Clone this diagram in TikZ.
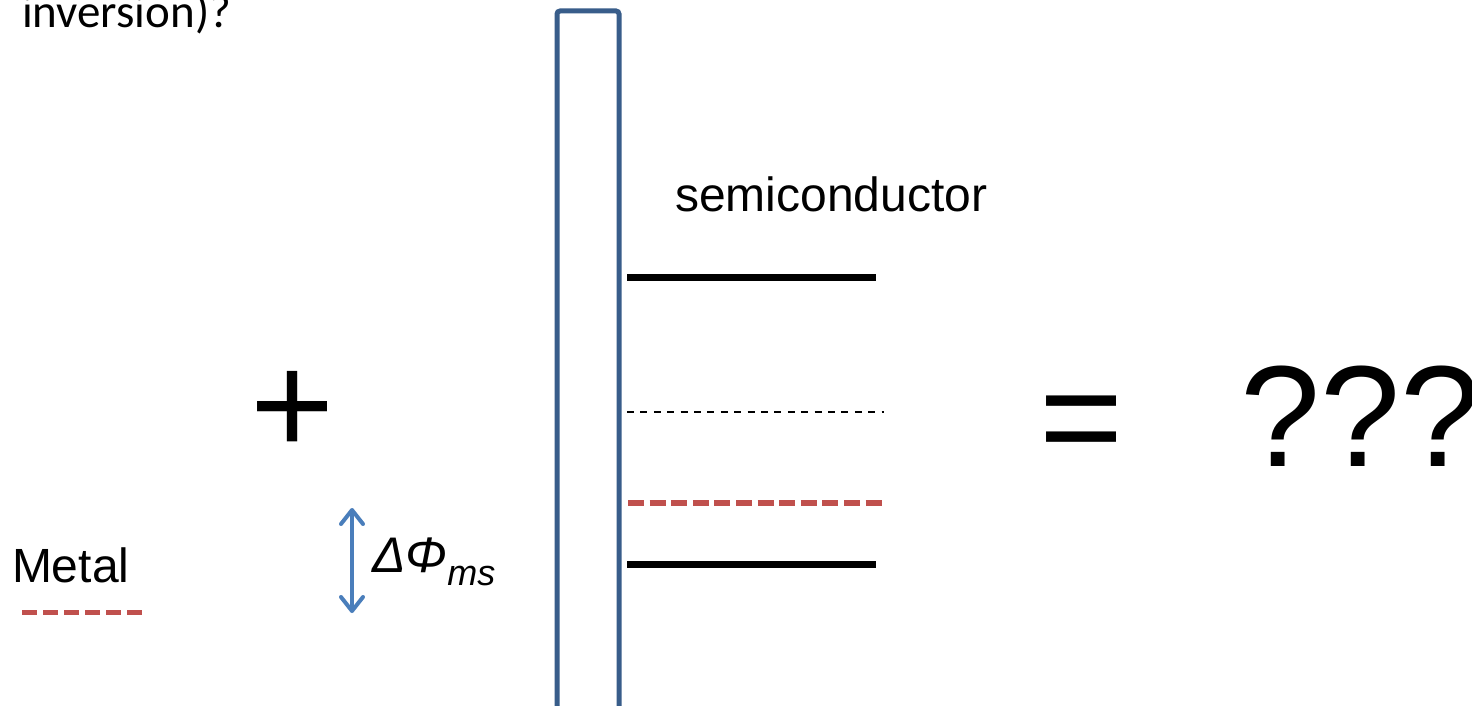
\documentclass[tikz,border=0pt]{standalone}
\usepackage{fontspec}
\setmainfont{Liberation Sans}
\newfontfamily\calibrilike{Carlito}
\usetikzlibrary{arrows.meta}
\definecolor{oxideblue}{RGB}{56,93,138}
\definecolor{arrowblue}{RGB}{74,126,187}
\definecolor{fermired}{RGB}{192,80,77}
\tikzset{
  txt/.style={inner sep=0pt, outer sep=0pt, anchor=base west},
  band/.style={line width=3.5pt, black},
  midgap/.style={line width=0.75pt, black, dash pattern=on 3.5pt off 3.2pt},
  fermi/.style={line width=3pt, fermired, dash pattern=on 8pt off 2.8pt},
  metalfermi/.style={line width=2.5pt, fermired, dash pattern=on 7.5pt off 3pt},
  oxide/.style={line width=2.5pt, oxideblue, rounded corners=1.5pt},
  biglabel/.style={txt, font=\fontsize{72}{72}\selectfont},
}
\begin{document}
\begin{tikzpicture}[x=0.5pt, y=-0.5pt]
\useasboundingbox (0,0) rectangle (1472,706);
\fill[white] (0,0) rectangle (1472,706);

% question text cut by the top edge
\node[txt, font=\calibrilike\fontsize{23.5}{23.5}\selectfont] (question) at (22,28) {inversion)?};

% metal side
\node[txt, font=\fontsize{24}{24}\selectfont] (metal) at (12,582) {Metal};
\coordinate (mfL) at (22,612);
\coordinate (mfR) at (143,612);
\draw[metalfermi] (mfL) -- (mfR);

% work function difference
\coordinate (dTop) at (352,508);
\coordinate (dBot) at (352,613);
\draw[arrowblue, line width=2pt, line cap=round,
  {Straight Barb[length=7pt,width=11pt,round]}-{Straight Barb[length=7pt,width=11pt,round]}]
  (dTop) -- (dBot);
\node[txt, font=\fontsize{25}{25}\selectfont\itshape] (dphi) at (372,572)
  {ΔΦ\raisebox{-6.5pt}{\fontsize{18}{18}\selectfont ms}};

% plus sign
\node[biglabel] (plus) at (250,454) {+};

% oxide layer
\begin{scope}
\clip (0,0) rectangle (1472,706);
\draw[oxide] (557,730) -- (557,11) -- (619,11) -- (619,730);
\end{scope}

% semiconductor bands
\node[txt, font=\fontsize{24}{24}\selectfont] (semi) at (675,211) {semiconductor};
\coordinate (ecL) at (627,277);  \coordinate (ecR) at (876,277);
\coordinate (eiL) at (627,412);  \coordinate (eiR) at (884,412);
\coordinate (efL) at (628,503);  \coordinate (efR) at (884,503);
\coordinate (evL) at (627,564);  \coordinate (evR) at (876,564);
\draw[band] (ecL) -- (ecR);
\draw[midgap] (eiL) -- (eiR);
\draw[fermi] (efL) -- (efR);
\draw[band] (evL) -- (evR);

% result
\node[biglabel] (equals) at (1039,466) {=};
\node[biglabel] (result) at (1240,466) {???};
\end{tikzpicture}
\end{document}
